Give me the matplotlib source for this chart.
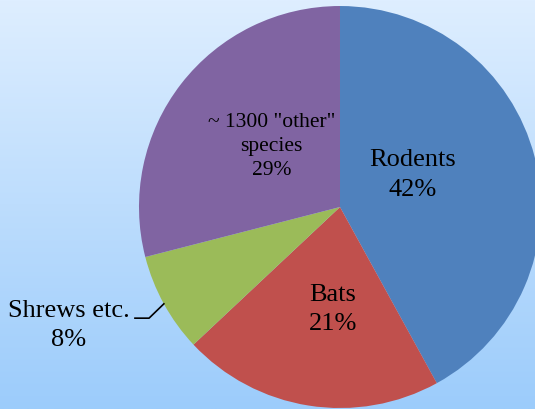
import numpy as np
import matplotlib
matplotlib.use("Agg")
import matplotlib.pyplot as plt

plt.rcParams['font.family'] = ['Liberation Serif', 'DejaVu Serif']

categories = ["Rodents", "Bats", "Shrews etc.", '~ 1300 "other"\nspecies']
shares = [42, 21, 8, 29]
colors = ["#4F81BD", "#C0504D", "#9BBB59", "#8064A2"]

# label placement (pie units), font sizes, line spacing
label_pos = [(0.36, 0.16), (-0.035, -0.51), (-1.35, -0.59), (-0.34, 0.30)]
label_size = [19, 19, 19, 15.5]
label_ls = [1.45, 1.4, 1.4, 1.35]

fig = plt.figure(figsize=(5.35, 4.09), dpi=100)

# background gradient
bg = fig.add_axes([0, 0, 1, 1])
grad = np.linspace(0, 1, 256).reshape(-1, 1)
top = np.array([0xDE, 0xEE, 0xFF]) / 255.
bot = np.array([0x9C, 0xCC, 0xFB]) / 255.
img = top[None, None, :] * (1 - grad[:, :, None]) + bot[None, None, :] * grad[:, :, None]
bg.imshow(img, aspect="auto", extent=[0, 1, 0, 1])
bg.set_axis_off()

ax = fig.add_axes([0.2598, 0.0024, 0.7514, 0.9829])
wedges, _ = ax.pie(shares, colors=colors, startangle=90, counterclock=False,
                   radius=1.0, wedgeprops=dict(linewidth=0))
ax.set_xlim(-1, 1)
ax.set_ylim(-1, 1)
ax.set_aspect("equal")
ax.set_axis_off()

for w in wedges:
    w.set_clip_on(False)

for name, v, (x, y), fs, ls in zip(categories, shares, label_pos, label_size, label_ls):
    ax.text(x, y, "%s\n%d%%" % (name, v), ha="center", va="center",
            fontsize=fs, linespacing=ls, clip_on=False)

# leader line for the small slice
w = wedges[2]
mid = np.deg2rad((w.theta1 + w.theta2) / 2.)
ex, ey = np.cos(mid), np.sin(mid)
ax.plot([-1.02, -0.95, ex], [-0.553, -0.553, ey], color="black", lw=1.2,
        clip_on=False)

fig.savefig("out.png", dpi=100)
